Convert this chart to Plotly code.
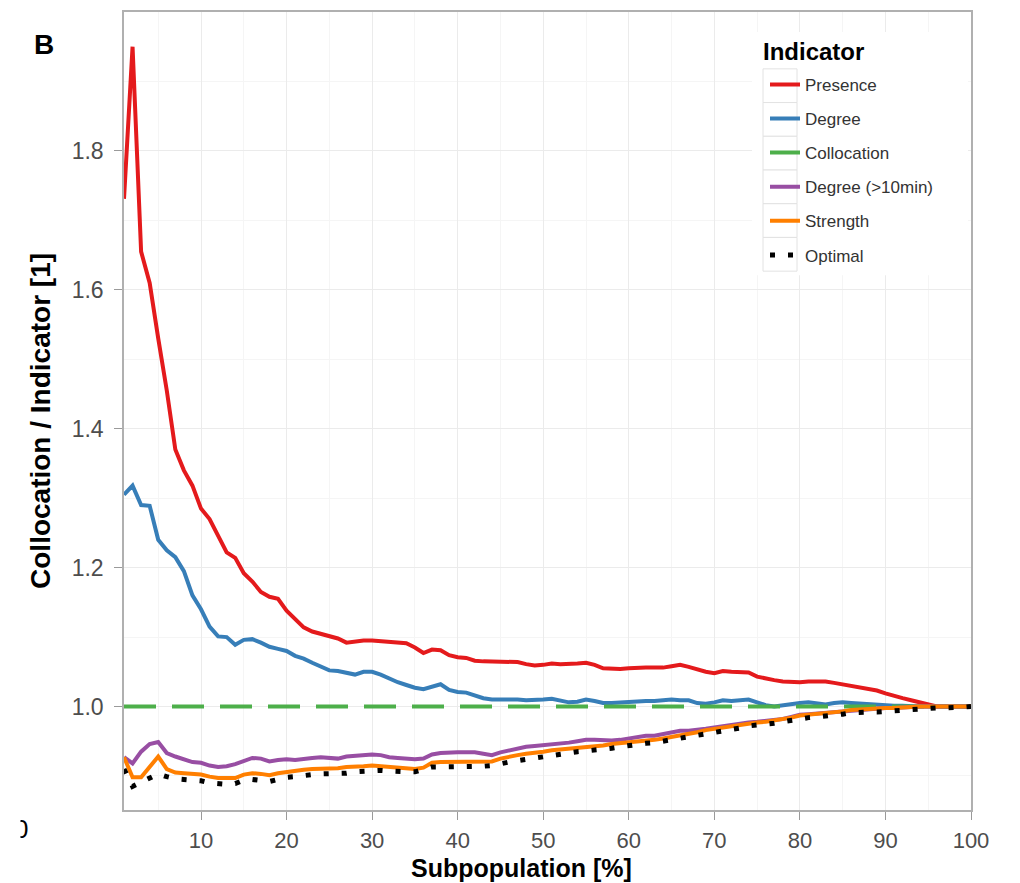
import plotly.graph_objects as go

subpopulation = list(range(1, 101))

presence = [
    1.731, 1.950, 1.655, 1.610, 1.530, 1.455, 1.370, 1.340, 1.318, 1.285,
    1.270, 1.245, 1.222, 1.214, 1.192, 1.180, 1.165, 1.158, 1.155, 1.138,
    1.125, 1.114, 1.108, 1.105, 1.102, 1.098, 1.092, 1.094, 1.095, 1.095,
    1.094, 1.094, 1.092, 1.091, 1.085, 1.077, 1.082, 1.081, 1.074, 1.071,
    1.070, 1.066, 1.065, 1.065, 1.065, 1.065, 1.064, 1.061, 1.059, 1.060,
    1.062, 1.061, 1.061, 1.062, 1.063, 1.060, 1.055, 1.054, 1.054, 1.055,
    1.056, 1.056, 1.056, 1.056, 1.058, 1.060, 1.057, 1.053, 1.050, 1.048,
    1.051, 1.050, 1.049, 1.049, 1.043, 1.040, 1.038, 1.036, 1.035, 1.035,
    1.036, 1.036, 1.036, 1.034, 1.032, 1.029, 1.027, 1.025, 1.023, 1.019,
    1.015, 1.012, 1.009, 1.006, 1.003, 1.000, 1.000, 1.000, 1.000, 1.000,
]

degree = [
    1.305, 1.318, 1.290, 1.289, 1.240, 1.225, 1.215, 1.195, 1.160, 1.140,
    1.115, 1.101, 1.100, 1.089, 1.096, 1.097, 1.092, 1.086, 1.083, 1.080,
    1.073, 1.069, 1.063, 1.058, 1.052, 1.051, 1.049, 1.046, 1.050, 1.050,
    1.046, 1.040, 1.035, 1.031, 1.027, 1.025, 1.029, 1.032, 1.024, 1.021,
    1.020, 1.016, 1.012, 1.010, 1.010, 1.011, 1.010, 1.009, 1.009, 1.010,
    1.011, 1.008, 1.006, 1.007, 1.010, 1.008, 1.005, 1.005, 1.006, 1.006,
    1.007, 1.008, 1.008, 1.009, 1.010, 1.009, 1.009, 1.005, 1.004, 1.006,
    1.009, 1.008, 1.009, 1.010, 1.006, 1.002, 1.000, 1.002, 1.004, 1.005,
    1.006, 1.005, 1.003, 1.005, 1.006, 1.005, 1.004, 1.003, 1.002, 1.002,
    1.001, 1.001, 1.000, 1.000, 1.000, 1.000, 1.000, 1.000, 1.000, 1.000,
]

collocation = [
    1.0, 1.0, 1.0, 1.0, 1.0, 1.0, 1.0, 1.0, 1.0, 1.0,
    1.0, 1.0, 1.0, 1.0, 1.0, 1.0, 1.0, 1.0, 1.0, 1.0,
    1.0, 1.0, 1.0, 1.0, 1.0, 1.0, 1.0, 1.0, 1.0, 1.0,
    1.0, 1.0, 1.0, 1.0, 1.0, 1.0, 1.0, 1.0, 1.0, 1.0,
    1.0, 1.0, 1.0, 1.0, 1.0, 1.0, 1.0, 1.0, 1.0, 1.0,
    1.0, 1.0, 1.0, 1.0, 1.0, 1.0, 1.0, 1.0, 1.0, 1.0,
    1.0, 1.0, 1.0, 1.0, 1.0, 1.0, 1.0, 1.0, 1.0, 1.0,
    1.0, 1.0, 1.0, 1.0, 1.0, 1.0, 1.0, 1.0, 1.0, 1.0,
    1.0, 1.0, 1.0, 1.0, 1.0, 1.0, 1.0, 1.0, 1.0, 1.0,
    1.0, 1.0, 1.0, 1.0, 1.0, 1.0, 1.0, 1.0, 1.0, 1.0,
]

degree_10min = [
    0.927, 0.918, 0.935, 0.946, 0.949, 0.933, 0.928, 0.924, 0.920, 0.919,
    0.915, 0.913, 0.914, 0.917, 0.922, 0.926, 0.925, 0.921, 0.923, 0.924,
    0.923, 0.925, 0.926, 0.927, 0.926, 0.925, 0.928, 0.929, 0.930, 0.931,
    0.930, 0.927, 0.926, 0.925, 0.924, 0.925, 0.931, 0.933, 0.934, 0.934,
    0.934, 0.934, 0.932, 0.930, 0.934, 0.937, 0.940, 0.942, 0.943, 0.944,
    0.946, 0.947, 0.948, 0.950, 0.952, 0.952, 0.951, 0.951, 0.952, 0.954,
    0.957, 0.958, 0.958, 0.960, 0.962, 0.965, 0.965, 0.966, 0.968, 0.970,
    0.972, 0.974, 0.976, 0.977, 0.978, 0.979, 0.980, 0.982, 0.985, 0.988,
    0.989, 0.990, 0.991, 0.993, 0.994, 0.995, 0.996, 0.997, 0.997, 0.998,
    0.998, 0.999, 0.999, 1.000, 1.000, 1.000, 1.000, 1.000, 1.000, 1.000,
]

strength = [
    0.927, 0.898, 0.898, 0.912, 0.928, 0.910, 0.905, 0.904, 0.903, 0.902,
    0.899, 0.897, 0.897, 0.897, 0.902, 0.904, 0.903, 0.901, 0.904, 0.906,
    0.907, 0.909, 0.910, 0.910, 0.910, 0.911, 0.913, 0.913, 0.914, 0.915,
    0.914, 0.913, 0.911, 0.910, 0.910, 0.912, 0.919, 0.920, 0.920, 0.920,
    0.921, 0.921, 0.920, 0.921, 0.925, 0.928, 0.930, 0.932, 0.933, 0.935,
    0.937, 0.938, 0.939, 0.940, 0.942, 0.943, 0.944, 0.946, 0.947, 0.948,
    0.950, 0.951, 0.952, 0.954, 0.956, 0.959, 0.961, 0.963, 0.966, 0.968,
    0.970, 0.972, 0.974, 0.976, 0.977, 0.978, 0.980, 0.981, 0.984, 0.987,
    0.988, 0.989, 0.990, 0.992, 0.993, 0.995, 0.996, 0.997, 0.997, 0.998,
    0.998, 0.999, 0.999, 1.000, 1.000, 1.000, 1.000, 1.000, 1.000, 1.000,
]

optimal = [
    0.910, 0.885, 0.891, 0.898, 0.903, 0.899, 0.896, 0.895, 0.894, 0.893,
    0.890, 0.889, 0.888, 0.889, 0.894, 0.895, 0.893, 0.892, 0.895, 0.898,
    0.899, 0.901, 0.902, 0.903, 0.903, 0.903, 0.904, 0.906, 0.907, 0.908,
    0.908, 0.907, 0.906, 0.906, 0.906, 0.909, 0.913, 0.913, 0.913, 0.913,
    0.914, 0.914, 0.914, 0.915, 0.918, 0.920, 0.922, 0.924, 0.926, 0.927,
    0.929, 0.931, 0.933, 0.935, 0.936, 0.937, 0.938, 0.940, 0.942, 0.944,
    0.946, 0.947, 0.948, 0.950, 0.953, 0.955, 0.957, 0.959, 0.961, 0.963,
    0.965, 0.967, 0.969, 0.972, 0.973, 0.974, 0.976, 0.978, 0.980, 0.983,
    0.984, 0.985, 0.986, 0.988, 0.989, 0.991, 0.992, 0.992, 0.992, 0.993,
    0.993, 0.994, 0.995, 0.996, 0.997, 0.998, 0.998, 0.998, 0.999, 1.000,
]

x_ticks = [10, 20, 30, 40, 50, 60, 70, 80, 90, 100]
y_ticks = [1.0, 1.2, 1.4, 1.6, 1.8]
y_tick_labels = ["1.0", "1.2", "1.4", "1.6", "1.8"]

series = [
    ("Presence", presence, "#E41A1C", "solid", 4),
    ("Degree", degree, "#377EB8", "solid", 4),
    ("Collocation", collocation, "#4DAF4A", "32px,16px", 4),
    ("Degree (>10min)", degree_10min, "#984EA3", "solid", 4),
    ("Strength", strength, "#FF7F00", "solid", 4),
    ("Optimal", optimal, "#000000", "5px,13px", 5),
]

FONT = "Liberation Sans, Arial, sans-serif"

fig = go.Figure()
for i, (name, vals, color, dash, width) in enumerate(series):
    fig.add_trace(go.Scatter(
        x=subpopulation, y=vals, mode="lines", name=name,
        legendgroup=f"g{i}",
        line=dict(color=color, width=width, dash=dash),
    ))

L, R, T, B = 124, 49, 10, 73
W, H = 1020, 883
pw, ph = W - L - R, H - T - B

def px_x(px):
    return (px - L) / pw

def px_y(py):
    return (H - B - py) / ph

shapes = [
    dict(type="rect", xref="paper", yref="paper", layer="above",
         x0=px_x(752), x1=px_x(968), y0=px_y(30), y1=px_y(274),
         fillcolor="white", line=dict(width=0)),
]
key_top, key_h = 67, 33.8
for i in range(len(series)):
    shapes.append(dict(
        type="rect", xref="paper", yref="paper", layer="above",
        x0=px_x(763), x1=px_x(797),
        y0=px_y(key_top + i * key_h), y1=px_y(key_top + (i + 1) * key_h),
        fillcolor="white", line=dict(color="#e2e2e2", width=1),
    ))

fig.update_layout(
    width=W, height=H,
    margin=dict(l=L, r=R, t=T, b=B, pad=0),
    paper_bgcolor="white", plot_bgcolor="white",
    font=dict(family=FONT, color="#4d4d4d", size=22),
    shapes=shapes,
    legend=dict(
        x=px_x(765), y=px_y(65), xanchor="left", yanchor="top",
        bgcolor="rgba(0,0,0,0)", borderwidth=0,
        font=dict(size=17, color="#333333", family=FONT),
        tracegroupgap=9,
        itemwidth=30,
    ),
    xaxis=dict(
        range=[1, 100], tickvals=x_ticks, ticktext=[str(v) for v in x_ticks],
        showgrid=True, gridcolor="#ebebeb", gridwidth=1,
        minor=dict(tickvals=[5, 15, 25, 35, 45, 55, 65, 75, 85, 95], showgrid=True,
                   gridcolor="#f5f5f5", gridwidth=1, ticks=""),
        ticks="outside", ticklen=8, tickcolor="#9a9a9a", tickwidth=1,
        showline=True, linecolor="#b0b0b0", linewidth=1.5, mirror=True,
        zeroline=False, tickfont=dict(size=22, color="#4d4d4d"),
        ticklabelstandoff=2,
    ),
    yaxis=dict(
        range=[0.851, 2.0], tickvals=y_ticks, ticktext=y_tick_labels,
        showgrid=True, gridcolor="#ebebeb", gridwidth=1,
        minor=dict(tickvals=[0.9, 1.1, 1.3, 1.5, 1.7, 1.9], showgrid=True,
                   gridcolor="#f5f5f5", gridwidth=1, ticks=""),
        ticks="outside", ticklen=8, tickcolor="#9a9a9a", tickwidth=1,
        showline=True, linecolor="#b0b0b0", linewidth=1.5, mirror=True,
        zeroline=False, tickfont=dict(size=23, color="#4d4d4d"),
        ticklabelstandoff=6,
    ),
    showlegend=True,
)

fig.add_annotation(
    text="<b>Indicator</b>", xref="paper", yref="paper",
    x=px_x(761), y=px_y(50), xanchor="left", yanchor="middle",
    showarrow=False, font=dict(size=24, color="#000000", family=FONT),
)
fig.add_annotation(
    text="<b>Subpopulation [%]</b>", xref="paper", yref="paper",
    x=px_x(521), y=px_y(868), xanchor="center", yanchor="middle",
    showarrow=False, font=dict(size=25, color="#000000", family=FONT),
)
fig.add_annotation(
    text="<b>Collocation / Indicator [1]</b>", xref="paper", yref="paper",
    x=px_x(41), y=px_y(420), xanchor="center", yanchor="middle", textangle=-90,
    showarrow=False, font=dict(size=28, color="#000000", family=FONT),
)
fig.add_annotation(
    text="<b>B</b>", xref="paper", yref="paper",
    x=px_x(44), y=px_y(43), xanchor="center", yanchor="middle",
    showarrow=False, font=dict(size=28, color="#000000", family=FONT),
)
fig.add_annotation(
    text="0", xref="paper", yref="paper",
    x=px_x(21), y=px_y(829), xanchor="center", yanchor="middle",
    showarrow=False, font=dict(size=26, color="#000000", family=FONT),
)
fig.add_annotation(
    text="", xref="paper", yref="paper",
    x=px_x(6), y=px_y(829), xanchor="center", yanchor="middle",
    width=28, height=36, bgcolor="white", borderpad=0,
    showarrow=False,
)

fig.write_html("out.html")
